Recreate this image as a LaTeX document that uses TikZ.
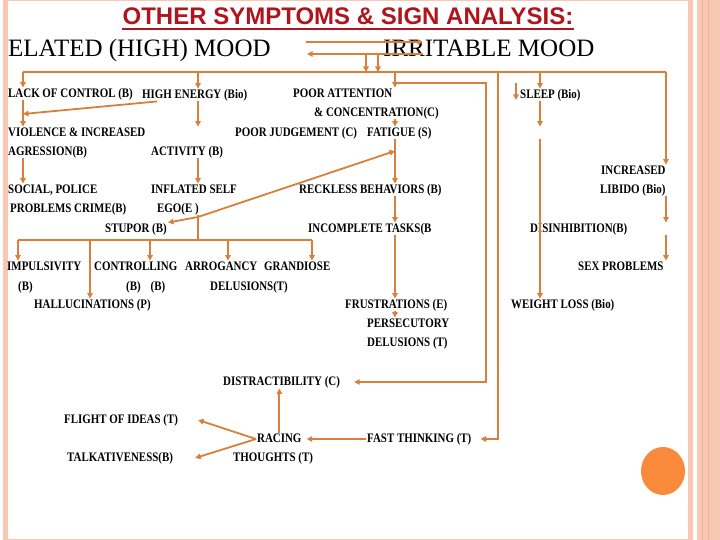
\documentclass[tikz,border=0pt]{standalone}
\usepackage{fontspec}
\setmainfont{Liberation Serif}
\newfontfamily\headfont{Liberation Sans}
\newfontfamily\labfont[FakeStretch=0.84]{Liberation Serif}
\usepackage{tikz}
\usetikzlibrary{arrows.meta,calc}
\definecolor{wire}{HTML}{DA7F3A}
\definecolor{headred}{HTML}{B0141C}
\definecolor{band}{HTML}{F8C8B4}
\definecolor{bandline}{HTML}{F1B096}
\definecolor{dot}{HTML}{F98A3C}

\begin{document}
\begin{tikzpicture}[
  x=1pt, y=-1pt,
  lbl/.style={anchor=west, inner sep=1pt, font=\labfont\bfseries\fontsize{13}{14}\selectfont, text height=9pt, text depth=1.5pt},
  mood/.style={anchor=base west, inner sep=0pt, font=\fontsize{25}{28}\selectfont},
  ln/.style={draw=wire, line width=1.8pt},
  ar/.style={ln, -{Triangle[length=5.5pt,width=5.5pt]}}
]
\useasboundingbox (0,0) rectangle (720,540);

% page frame
\fill[band] (3,0) rectangle (8,540);
\fill[band] (688,0) rectangle (693,540);
\fill[band] (697,0) rectangle (720,540);
\draw[bandline, line width=1pt] (702.5,0) -- (702.5,540) (708,0) -- (708,540);
\draw[band, line width=1pt] (3,0.5) -- (693,0.5) (3,539) -- (693,539);
\fill[dot] (663,471) ellipse [x radius=22, y radius=24];

% heading
\node[font=\headfont\bfseries\fontsize{24}{28}\selectfont, text=headred, anchor=base, inner sep=0pt] (title) at (348,25) {OTHER SYMPTOMS \& SIGN ANALYSIS:};
\draw[headred, line width=1.2pt] ($(title.base west)+(0,4)$) -- ($(title.base east)+(0,4)$);

\node[mood] (elated) at (8,57) {ELATED (HIGH) MOOD};
\node[mood] (irrit) at (383,57) {IRRITABLE MOOD};

% symptoms
\node[lbl] (lack) at (7,94) {LACK OF CONTROL (B)};
\node[lbl] (high) at (141,95) {HIGH ENERGY (Bio)};
\node[lbl] (poorA) at (292,94) {POOR ATTENTION};
\node[lbl] (conc) at (313,113) {\& CONCENTRATION(C)};
\node[lbl] (sleep) at (519,95) {SLEEP (Bio)};
\node[lbl] (violence) at (7,133) {VIOLENCE \& INCREASED};
\node[lbl] (agression) at (7,152) {AGRESSION(B)};
\node[lbl] (judge) at (234,133) {POOR JUDGEMENT (C)};
\node[lbl] (fatigue) at (366,133) {FATIGUE (S)};
\node[lbl] (activity) at (150,152) {ACTIVITY (B)};
\node[lbl] (incr) at (600,171) {INCREASED};
\node[lbl] (libido) at (599,190) {LIBIDO (Bio)};
\node[lbl] (social) at (7,190) {SOCIAL, POLICE};
\node[lbl] (problems) at (9,209) {PROBLEMS CRIME(B)};
\node[lbl] (inflated) at (150,190) {INFLATED SELF};
\node[lbl] (ego) at (156,209) {EGO(E )};
\node[lbl] (reckless) at (298,190) {RECKLESS BEHAVIORS (B)};
\node[lbl] (stupor) at (104,229) {STUPOR (B)};
\node[lbl] (incomp) at (307,229) {INCOMPLETE TASKS(B};
\node[lbl] (disinh) at (529,229) {DISINHIBITION(B)};
\node[lbl] (impuls) at (6,267) {IMPULSIVITY};
\node[lbl] (impulsB) at (17,287) {(B)};
\node[lbl] (control) at (93,267) {CONTROLLING};
\node[lbl] (controlB) at (125,287) {(B)\hspace{10pt}(B)};
\node[lbl] (arrog) at (184,267) {ARROGANCY};
\node[lbl] (grand) at (263,267) {GRANDIOSE};
\node[lbl] (delusA) at (209,287) {DELUSIONS(T)};
\node[lbl] (halluc) at (33,305) {HALLUCINATIONS (P)};
\node[lbl] (sexp) at (577,267) {SEX PROBLEMS};
\node[lbl] (frust) at (344,305) {FRUSTRATIONS (E)};
\node[lbl] (persec) at (366,324) {PERSECUTORY};
\node[lbl] (delusB) at (366,343) {DELUSIONS (T)};
\node[lbl] (weight) at (510,305) {WEIGHT LOSS (Bio)};
\node[lbl] (distract) at (222,382) {DISTRACTIBILITY (C)};
\node[lbl] (flight) at (63,420) {FLIGHT OF IDEAS (T)};
\node[lbl] (racing) at (256,439) {RACING};
\node[lbl] (talk) at (66,458) {TALKATIVENESS(B)};
\node[lbl] (thoughts) at (232,458) {THOUGHTS (T)};
\node[lbl] (fast) at (366,439) {FAST THINKING (T)};

% columns and junctions
\coordinate (busL) at (23,72);
\coordinate (busR) at (666,72);
\coordinate (cB) at (198,0);
\coordinate (cC) at (395,0);
\coordinate (cD) at (486,0);
\coordinate (cE) at (498,0);
\coordinate (cF) at (540,0);
\coordinate (uL) at (306,42);
\coordinate (uR) at (423,42);
\coordinate (mL) at (307,54);
\coordinate (mR) at (423,54);
\coordinate (d1) at (366,54);
\coordinate (d2) at (378,54);
\coordinate (pa) at (397,83);
\coordinate (jA) at (23,114);
\coordinate (jC) at (198,217);
\coordinate (jD) at (395,151);
\coordinate (busSL) at (18,240);
\coordinate (busSR) at (312,240);
\coordinate (s0) at (516,83);
\coordinate (s1) at (516,100);

% mood swing
\draw[ar] (uL) -- (uR);
\draw[ar] (mR) -- (mL);
\draw[ar] (d1) -- (d1 |- busL);
\draw[ar] (d2) -- (d2 |- busL);

% top bus
\draw[ln] (busL) -- (busR);
\draw[ar] (busL) -- (lack.north -| busL);
\draw[ar] (busL -| cB) -- (high.north -| cB);
\draw[ar] (busL -| cC) -- (poorA.north -| cC);
\draw[ar] (busL -| cF) -- (sleep.north -| cF);
\draw[ar] (busR) -- (incr.north -| busR);
\draw[ar] (busL -| cE) -- (fast.east -| cE) -- ([xshift=8pt]fast.east);
\draw[ar] (pa) -- (pa -| cD) -- (distract.east -| cD) -- ([xshift=13pt]distract.east);
\draw[ar] (s0) -- (s1);

% left chain
\draw[ar] (lack.south -| busL) -- (violence.north -| busL);
\draw[ar] ([xshift=16pt]high.south west) -- (jA);
\draw[ar] (high.south -| cB) -- (violence.north -| cB);
\draw[ar] (activity.south -| cB) -- (inflated.north -| cB);
\draw[ar] (agression.south -| busL) -- (social.north -| busL);
\draw[ln] (ego.south -| cB) -- (busSL -| cB);
\draw[ar] (jC) -- (stupor.north east);
\draw[ar] (jC) -- (jD);
\draw[ln] (busSL) -- (busSR);
\foreach \n/\dx in {impuls/12, halluc/57, control/57, arrog/44, grand/49} {
  \path ($(\n.north west)+(\dx,0)$) coordinate (t\n);
  \draw[ar] (busSL -| t\n) -- (t\n);
}

% middle chain
\draw[ar] (conc.south -| cC) -- (fatigue.north -| cC);
\draw[ar] (fatigue.south -| cC) -- (reckless.north -| cC);
\draw[ar] (reckless.south -| cC) -- (incomp.north -| cC);
\draw[ar] (incomp.south -| cC) -- (frust.north -| cC);
\draw[ar] (frust.south -| cC) -- (persec.north -| cC);

% right chains
\draw[ar] (sleep.south -| cF) -- (fatigue.north -| cF);
\draw[ar] (fatigue.south -| cF) -- (weight.north -| cF);
\draw[ar] (libido.south -| busR) -- (disinh.north -| busR);
\draw[ar] (disinh.south -| busR) -- (sexp.north -| busR);

% racing thoughts
\draw[ar] (fast.west) -- ([xshift=4pt]racing.east);
\draw[ar] (racing.north) -- (racing.north |- distract.south);
\draw[ar] (racing.west) -- ([xshift=19pt]flight.east);
\draw[ar] (racing.west) -- ([xshift=21pt]talk.east);
\end{tikzpicture}
\end{document}
